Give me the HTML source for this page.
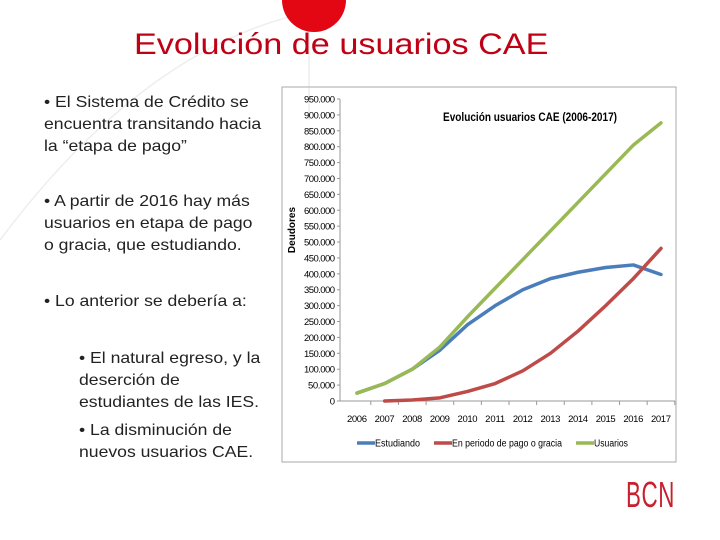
<!DOCTYPE html>
<html><head><meta charset="utf-8"><style>
body{margin:0;width:720px;height:540px;background:#fff;position:relative;overflow:hidden;font-family:"Liberation Sans",Arial,sans-serif}
.t{position:absolute;font-size:16px;line-height:22px;color:#222;white-space:nowrap;transform:scaleX(1.1);transform-origin:left top}
</style></head><body>
<svg width="720" height="540" style="position:absolute;left:0;top:0">
<path d="M 0 240 Q 150 40 320 10" stroke="#eee" stroke-width="1.5" fill="none"/>
<line x1="309" y1="30" x2="309" y2="120" stroke="#eee" stroke-width="1.5"/>
<circle cx="314" cy="0" r="32" fill="#e30613"/>
</svg>
<div style="position:absolute;left:134px;top:28px;font-size:30px;color:#c00014;white-space:nowrap;transform:scaleX(1.14);transform-origin:left top">Evolución de usuarios CAE</div>
<div class="t" style="left:44px;top:92px">• El Sistema de Crédito se<br>encuentra transitando hacia<br>la “etapa de pago”</div>
<div class="t" style="left:44px;top:191px">• A partir de 2016 hay más<br>usuarios en etapa de pago<br>o gracia, que estudiando.</div>
<div class="t" style="left:44px;top:291px">• Lo anterior se debería a:</div>
<div class="t" style="left:79px;top:348px">• El natural egreso, y la<br>deserción de<br>estudiantes de las IES.</div>
<div class="t" style="left:79px;top:420px">• La disminución de<br>nuevos usuarios CAE.</div>
<div style="position:absolute;left:626px;top:474px;font-size:36px;color:#c8202e;transform:scaleX(0.62);transform-origin:left top;letter-spacing:1px">BCN</div>
<svg id="chart" width="720" height="540" style="position:absolute;left:0;top:0"></svg>
<script>
const years=[2006,2007,2008,2009,2010,2011,2012,2013,2014,2015,2016,2017];
const estudiando=[25000,55000,100000,160000,240000,300000,350000,385000,405000,420000,428000,398000];
const pago=[null,0,3000,10000,30000,55000,95000,150000,220000,300000,385000,480000];
const usuarios=[25000,55000,100000,170000,265000,355000,445000,535000,625000,715000,805000,875000];
const yTicks=[0,50000,100000,150000,200000,250000,300000,350000,400000,450000,500000,550000,600000,650000,700000,750000,800000,850000,900000,950000];
const seriesNames=["Estudiando","En periodo de pago o gracia","Usuarios"];
const NS="http://www.w3.org/2000/svg";
const svg=document.getElementById('chart');
const x=i=>357+i*(661-357)/11;
const y=v=>401-v*302/950000;
function el(t,a,p){const e=document.createElementNS(NS,t);for(const k in a)e.setAttribute(k,a[k]);(p||svg).appendChild(e);return e;}
const frame=el('rect',{x:282,y:87,width:394,height:375,fill:'none',stroke:'#aaa','stroke-width':1});


const ya=el('line',{x1:340,y1:99,x2:340,y2:401,stroke:'#999'});


const xa=el('line',{x1:340,y1:401,x2:675,y2:401,stroke:'#999'});


yTicks.forEach(v=>{
 const t=el('text',{x:335,y:y(v)+3.5,'text-anchor':'end','font-size':'9.5',fill:'#000'});
 t.textContent=v===0?'0':v.toLocaleString('de-DE');
 if(v>=100000)t.setAttribute('textLength','31');
 else if(v>0)t.setAttribute('textLength','27');
 
 
 el('line',{x1:337,y1:y(v),x2:340,y2:y(v),stroke:'#999'});
});
years.forEach((yr,i)=>{
 const t=el('text',{x:x(i),y:422,'text-anchor':'middle','font-size':'9.5',fill:'#000',textLength:'20'});
 t.textContent=yr;
 
 
 el('line',{x1:x(i)+13.8,y1:401,x2:x(i)+13.8,y2:405,stroke:'#999'});
});
const yt=el('text',{x:0,y:0,transform:'translate(295,230) rotate(-90)','text-anchor':'middle','font-size':'10','font-weight':'bold',fill:'#000'});
yt.textContent='Deudores';


const ct=el('text',{x:443,y:121,'font-size':'12','font-weight':'bold',fill:'#000',textLength:'174',lengthAdjust:'spacingAndGlyphs'});
ct.textContent='Evolución usuarios CAE (2006-2017)';


const colors=['#4a7ebb','#be4b48','#98b954'];
[estudiando,pago,usuarios].forEach((s,k)=>{
 let d='';s.forEach((v,i)=>{if(v==null)return;d+=(d?'L':'M')+x(i)+' '+y(v)+' ';});
 const p=el('path',{d:d,fill:'none',stroke:colors[k],'stroke-width':3.5,'stroke-linejoin':'round','stroke-linecap':'round'});
 
 
});
const lx=[357,434,576];
const lw=[45,110,34];
seriesNames.forEach((n,k)=>{
 el('line',{x1:lx[k],y1:443,x2:lx[k]+18,y2:443,stroke:colors[k],'stroke-width':3.5});
 const t=el('text',{x:lx[k]+18,y:446.5,'font-size':'10',fill:'#000',textLength:lw[k],lengthAdjust:'spacingAndGlyphs'});
 t.textContent=n;
 
 
});
</script>
</body></html>
